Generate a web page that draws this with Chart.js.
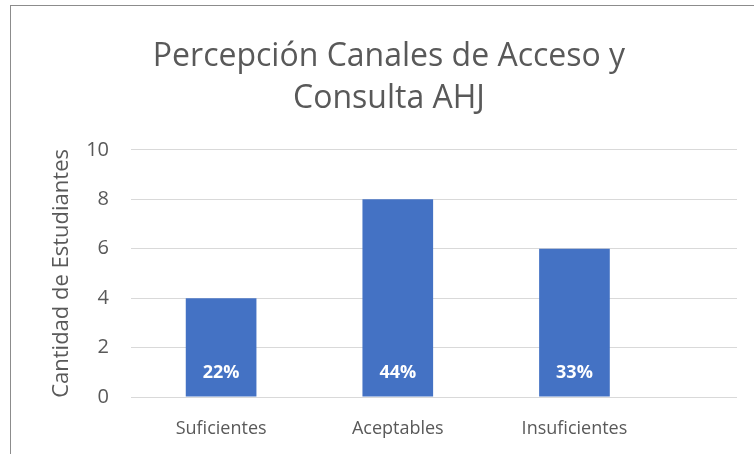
<!DOCTYPE html>
<html>
<head>
<meta charset="utf-8">
<script src="https://cdn.jsdelivr.net/npm/chart.js@4"></script>
<style>
  body { margin: 0; background: #fff; }
  #wrap { position: relative; width: 754px; height: 454px; }
  #frame { position: absolute; left: 10px; top: 5px; right: 0; bottom: 0; border-top: 1px solid #8c8c8c; border-left: 1px solid #8c8c8c; }
  canvas { position: absolute; left: 0; top: 0; }
</style>
</head>
<body>
<div id="wrap">
  <div id="frame"></div>
  <canvas id="chart" width="754" height="454"></canvas>
</div>
<script>
const categories = ["Suficientes", "Aceptables", "Insuficientes"];
const students = [4, 8, 6];
const yTicks = [0, 2, 4, 6, 8, 10];

const total = students.reduce((a, b) => a + b, 0);
const font = "'Open Sans', sans-serif";

// white percentage labels near the bottom of each bar
const barLabels = {
    id: "barLabels",
    afterDatasetsDraw(chart) {
        const ctx = chart.ctx;
        const meta = chart.getDatasetMeta(0);
        const yScale = chart.scales.y;
        ctx.save();
        ctx.fillStyle = "#ffffff";
        ctx.font = "bold 18px " + font;
        ctx.textAlign = "center";
        ctx.textBaseline = "middle";
        meta.data.forEach((bar, i) => {
            const pct = Math.round(students[i] / total * 100) + "%";
            ctx.fillText(pct, bar.x, yScale.getPixelForValue(0) - 24);
        });
        ctx.restore();
    }
};

new Chart(document.getElementById("chart"), {
    type: "bar",
    data: {
        datasets: [{
            data: students.map((v, i) => ({ x: i, y: v })),
            backgroundColor: "#4472C4",
            barPercentage: 0.4,
            categoryPercentage: 1
        }]
    },
    options: {
        responsive: false,
        animation: false,
        layout: { padding: { left: 41, right: 17, top: 10, bottom: 15 } },
        plugins: {
            legend: { display: false },
            tooltip: { enabled: false },
            title: {
                display: true,
                text: ["Percepción Canales de Acceso y", "Consulta AHJ"],
                color: "#595959",
                font: { family: font, size: 32, weight: "normal", lineHeight: 1.31 },
                padding: { top: 26, bottom: 30 }
            }
        },
        scales: {
            x: {
                type: "linear",
                offset: false,
                min: -0.51,
                max: 2.92,
                grid: { display: false },
                border: { display: false },
                afterBuildTicks(scale) {
                    scale.ticks = categories.map((c, i) => ({ value: i }));
                },
                afterFit(scale) {
                    scale.height = 42;
                },
                ticks: {
                    color: "#595959",
                    font: { family: font, size: 18 },
                    padding: 13,
                    maxRotation: 0,
                    callback: (v) => categories[v]
                }
            },
            y: {
                min: 0,
                max: 10,
                afterBuildTicks(scale) {
                    scale.ticks = yTicks.map(v => ({ value: v }));
                },
                afterFit(scale) {
                    scale.width = 90;
                },
                grid: { color: "#d9d9d9", lineWidth: 1, drawTicks: false },
                border: { display: false },
                ticks: {
                    color: "#595959",
                    font: { family: font, size: 20 },
                    padding: 22
                },
                title: {
                    display: true,
                    text: "Cantidad de Estudiantes",
                    color: "#595959",
                    font: { family: font, size: 22 },
                    padding: { top: 8, bottom: 0 }
                }
            }
        }
    },
    plugins: [barLabels]
});
</script>
</body>
</html>
